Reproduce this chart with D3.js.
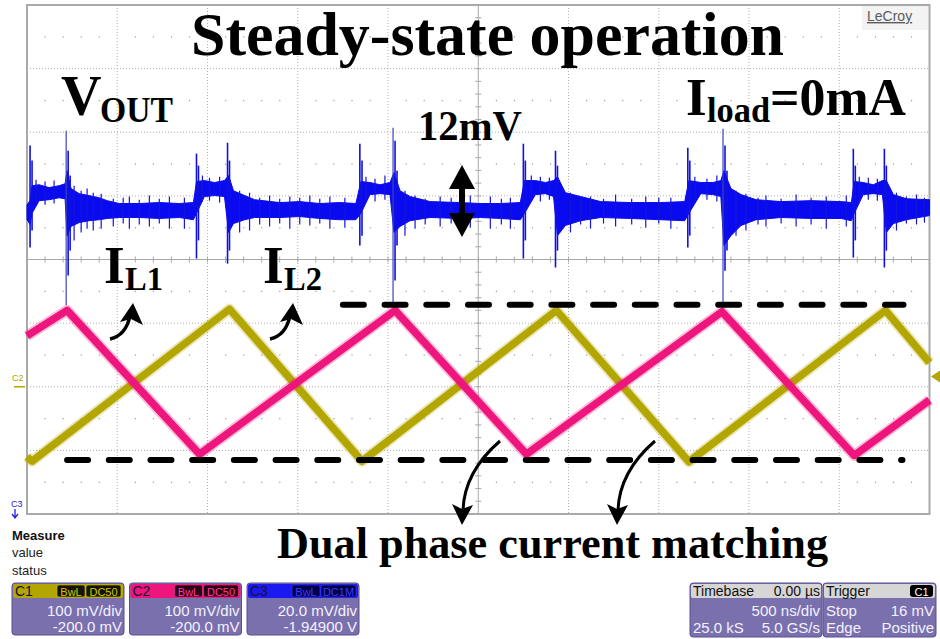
<!DOCTYPE html>
<html>
<head>
<meta charset="utf-8">
<title>Steady-state operation</title>
<style>
  body { margin: 0; background: #fff; }
  svg { display: block; }
  .grid line { stroke: #b0b0b0; stroke-width: 1; stroke-dasharray: 1,2; }
  .axis line { stroke: #a8a8a8; stroke-width: 1; }
  .serif { font-family: "Liberation Serif", "Times New Roman", serif; font-weight: bold; fill: #000; }
  .ui { font-family: "Liberation Sans", Arial, sans-serif; }
</style>
</head>
<body>
<svg id="scope" width="940" height="639"></svg>
<script src="https://d3js.org/d3.v7.min.js"></script>
<script>
// time axis in µs, 500 ns/div, trigger at centre
// C1 (olive) inductor current, mV at 100 mV/div
var c1T = [-2.500, -2.472, -1.378, -0.644, 0.433, 1.167, 2.256, 2.500];
var c1V = [-110, -117, 122, -117, 120, -118, 120, 38];

// C2 (pink) inductor current, mV at 100 mV/div
var c2T = [-2.500, -2.278, -1.544, -0.461, 0.267, 1.350, 2.083, 2.500];
var c2V = [80, 120, -106, 120, -106, 118, -108, -21];

// C3 (blue) VOUT ripple, mV above the 1.949 V offset: core of the band
var voutT = [-2.500, -2.483, -2.472, -2.433, -2.378, -2.322, -2.289, -2.278, -2.256, -2.211,
  -2.156, -2.100, -2.056, -1.989, -1.878, -1.767, -1.656, -1.578, -1.561, -1.517,
  -1.461, -1.406, -1.383, -1.356, -1.294, -1.239, -1.100, -0.989, -0.878, -0.767,
  -0.678, -0.650, -0.600, -0.544, -0.489, -0.467, -0.433, -0.378, -0.267, -0.100,
  0.011, 0.122, 0.233, 0.256, 0.317, 0.372, 0.417, 0.439, 0.483, 0.567,
  0.678, 0.844, 1.011, 1.144, 1.167, 1.233, 1.300, 1.344, 1.361, 1.400,
  1.456, 1.539, 1.678, 1.844, 2.011, 2.067, 2.083, 2.133, 2.189, 2.239,
  2.261, 2.300, 2.372, 2.500];
var voutHi = [17.2, 18.5, 23.2, 23.5, 22.6, 23.2, 23.8, 27.9, 22.3, 20.7,
  20.1, 19.4, 18.5, 17.6, 17.6, 17.9, 17.6, 17.9, 24.5, 24.8,
  24.2, 24.8, 26.4, 21.6, 20.1, 18.8, 17.9, 18.2, 17.6, 17.9,
  17.6, 24.5, 24.2, 23.5, 24.2, 27.3, 21.6, 19.8, 18.2, 17.9,
  17.6, 17.6, 17.9, 24.8, 24.8, 24.2, 24.8, 26.0, 21.0, 19.8,
  18.2, 17.9, 17.9, 18.2, 24.8, 24.2, 24.2, 24.8, 27.9, 22.3,
  20.4, 18.8, 18.2, 18.5, 18.2, 17.9, 24.5, 24.2, 23.5, 24.8,
  24.8, 20.4, 19.1, 18.8];
var voutLo = [12.5, 11.0, 14.5, 18.5, 18.8, 19.4, 19.1, 7.5, 10.4, 11.6,
  12.2, 12.5, 12.9, 13.2, 13.2, 12.9, 13.2, 12.5, 14.5, 19.8,
  20.1, 19.8, 8.5, 11.3, 12.5, 13.2, 13.2, 13.5, 12.9, 12.5,
  12.5, 14.5, 20.4, 20.7, 20.4, 8.5, 10.4, 12.2, 13.2, 12.9,
  13.2, 12.9, 12.5, 14.5, 20.4, 20.7, 19.8, 7.5, 10.7, 12.2,
  13.2, 12.9, 12.5, 12.2, 14.5, 20.7, 20.4, 19.8, 4.4, 7.5,
  10.7, 12.5, 13.2, 12.9, 12.9, 12.2, 14.5, 20.4, 20.7, 20.4,
  8.5, 11.3, 12.5, 13.8];

// C3 noise hairs on the baseline and plateaus (t, top mV, bottom mV)
var hairT = [-2.450, -2.400, -2.350, -2.239, -2.200, -2.167, -2.133, -2.089, -2.022, -1.967,
  -1.933, -1.878, -1.822, -1.767, -1.711, -1.628, -1.528, -1.489, -1.433, -1.322,
  -1.267, -1.211, -1.156, -1.100, -1.044, -0.989, -0.933, -0.878, -0.822, -0.739,
  -0.622, -0.572, -0.517, -0.406, -0.350, -0.294, -0.211, -0.150, -0.044, 0.067,
  0.128, 0.178, 0.294, 0.344, 0.394, 0.511, 0.567, 0.622, 0.694, 0.761,
  0.850, 0.928, 1.000, 1.067, 1.200, 1.267, 1.322, 1.428, 1.483, 1.550,
  1.594, 1.678, 1.761, 1.844, 1.928, 2.039, 2.111, 2.161, 2.211, 2.317,
  2.372, 2.428, 2.472];
var hairHi = [25.1, 24.5, 24.8, 23.2, 21.6, 22.3, 21.0, 20.7, 19.1, 19.4,
  19.8, 18.8, 20.1, 19.1, 19.8, 19.4, 26.4, 25.7, 26.0, 21.6,
  21.0, 19.4, 20.1, 19.1, 19.8, 19.4, 20.1, 19.1, 19.8, 19.4,
  26.0, 25.4, 26.4, 21.6, 20.1, 19.1, 19.8, 19.4, 20.1, 19.8,
  19.1, 19.4, 26.4, 26.0, 25.7, 21.0, 19.4, 19.8, 19.1, 20.4,
  19.1, 19.8, 19.4, 19.4, 26.0, 25.4, 26.4, 21.6, 20.7, 19.4,
  20.1, 19.1, 20.4, 19.4, 19.8, 20.1, 26.0, 25.7, 25.4, 21.0,
  19.8, 20.4, 19.4];
var hairLo = [17.9, 17.2, 17.6, 6.0, 8.5, 9.7, 9.1, 9.7, 10.4, 11.3,
  9.7, 11.0, 10.4, 11.3, 9.7, 9.7, 18.2, 18.5, 17.9, 8.5,
  9.1, 11.0, 10.4, 11.3, 9.7, 11.0, 10.7, 11.3, 9.7, 10.0,
  18.5, 18.2, 18.8, 7.5, 9.7, 11.0, 10.4, 11.3, 10.0, 9.7,
  11.0, 9.7, 18.5, 18.2, 18.8, 8.5, 11.0, 9.7, 11.3, 10.4,
  11.0, 10.0, 11.3, 9.7, 18.5, 18.8, 18.2, 7.5, 9.1, 11.0,
  10.4, 11.3, 10.4, 11.0, 9.7, 10.4, 18.2, 18.8, 18.5, 9.1,
  11.3, 11.0, 11.6];

// C3 switching spikes (t, top mV, bottom mV)
var spikeT = [-2.483, -2.472, -2.283, -2.272, -2.261, -1.561, -1.550, -1.389, -1.378, -0.656,
  -0.644, -0.472, -0.461, -0.450, 0.250, 0.261, 0.428, 0.439, 1.161, 1.172,
  1.356, 1.367, 1.378, 2.078, 2.089, 2.250, 2.261];
var spikeHi = [35.8, 31.1, 40.5, 34.2, 26.4, 33.3, 29.5, 36.7, 31.1, 36.4,
  31.1, 41.4, 37.3, 27.9, 36.4, 31.1, 34.2, 29.5, 35.1, 31.1,
  41.1, 35.8, 27.9, 34.8, 29.5, 34.8, 29.5];
var spikeLo = [3.8, 9.1, -14.4, -5.0, 2.8, 0.3, 6.0, -1.3, 2.8, 4.4,
  7.5, -14.4, -6.6, 4.4, 0.3, 6.0, -2.5, 2.8, 3.8, 7.5,
  -16.0, -3.5, 2.8, 0.6, 6.0, -2.5, 2.8];

// dashed guide levels on the C2 scale (mV) and their time spans (µs)
var guideLevel = [129, -115];
var guideStart = [-0.75, -2.278];
var guideEnd = [2.356, 2.350];

// bottom panel texts
var chNames = ["C1", "C2", "C3"];
var chCoupling = ["DC50", "DC50", "DC1M"];
var chScale = ["100 mV/div", "100 mV/div", "20.0 mV/div"];
var chOffset = ["-200.0 mV", "-200.0 mV", "-1.94900 V"];

var svg = d3.select("#scope");
var plotL = 27, plotR = 929.5, plotT = 5, plotB = 514;

var x = d3.scaleLinear().domain([-2.5, 2.5]).range([plotL, plotR]);
var yDiv = d3.scaleLinear().domain([-4, 4]).range([plotB, plotT]);
var yC12 = d3.scaleLinear().domain([-200, 600]).range([plotB, plotT]); // 100 mV/div, -200 mV offset
var yC3 = d3.scaleLinear().domain([-80, 80]).range([plotB, plotT]);    // 20 mV/div about 1.949 V

// grid
var grid = svg.append("g").attr("class", "grid");
grid.selectAll(".vg").data(d3.range(-2, 2.01, 0.5).filter(function (t) { return t !== 0; }))
  .enter().append("line")
  .attr("x1", function (d) { return x(d); }).attr("x2", function (d) { return x(d); })
  .attr("y1", plotT).attr("y2", plotB);
grid.selectAll(".hg").data([-3, -2, -1, 1, 2, 3])
  .enter().append("line")
  .attr("x1", plotL).attr("x2", plotR)
  .attr("y1", function (d) { return yDiv(d); }).attr("y2", function (d) { return yDiv(d); });

// sparse dots on the half-division rows
var dotRows = [-3.5, -2.5, -1.5, -0.5, 0.5, 1.5, 2.5, 3.5];
var dotCols = d3.range(-24, 25).map(function (k) { return k / 10; }).filter(function (t) { return Math.round(t * 10) % 5 !== 0; });
dotRows.forEach(function (r) {
  svg.append("g").selectAll("rect").data(dotCols).enter().append("rect")
    .attr("x", function (d) { return x(d) - 0.5; }).attr("y", yDiv(r) - 0.5)
    .attr("width", 1.2).attr("height", 1.2).attr("fill", "#9a9a9a");
});

// centre axes with minor ticks
var axis = svg.append("g").attr("class", "axis");
axis.append("line").attr("x1", plotL).attr("x2", plotR).attr("y1", yDiv(0)).attr("y2", yDiv(0));
axis.append("line").attr("x1", x(0)).attr("x2", x(0)).attr("y1", plotT).attr("y2", plotB);
axis.selectAll(".tx").data(d3.range(-24, 25).map(function (k) { return k / 10; }))
  .enter().append("line")
  .attr("x1", function (d) { return x(d); }).attr("x2", function (d) { return x(d); })
  .attr("y1", yDiv(0) - 3).attr("y2", yDiv(0) + 3);
axis.selectAll(".ty").data(d3.range(-19, 20).map(function (k) { return k / 5; }))
  .enter().append("line")
  .attr("x1", x(0) - 3).attr("x2", x(0) + 3)
  .attr("y1", function (d) { return yDiv(d); }).attr("y2", function (d) { return yDiv(d); });

svg.append("rect").attr("x", plotL).attr("y", plotT)
  .attr("width", plotR - plotL).attr("height", plotB - plotT)
  .attr("fill", "none").attr("stroke", "#a9a9a9").attr("stroke-width", 2);

// LeCroy badge
svg.append("rect").attr("x", 862).attr("y", 6).attr("width", 66).attr("height", 24).attr("fill", "#f3f3f3");
svg.append("text").attr("class", "ui").attr("x", 867).attr("y", 21)
  .attr("font-size", 14).attr("fill", "#5a5a5a").attr("text-decoration", "underline")
  .text("LeCroy");

// C3 VOUT trace
var vout = voutT.map(function (t, i) { return { t: t, hi: voutHi[i], lo: voutLo[i] }; });
var band = d3.area()
  .x(function (d) { return x(d.t); })
  .y0(function (d) { return yC3(d.lo); })
  .y1(function (d) { return yC3(d.hi); });
svg.append("path").datum(vout).attr("d", band)
  .attr("fill", "#0a0af0").attr("stroke", "#0a0af0").attr("stroke-width", 1);

svg.append("g").selectAll("line").data(hairT).enter().append("line")
  .attr("x1", function (d) { return x(d); }).attr("x2", function (d) { return x(d); })
  .attr("y1", function (d, i) { return yC3(hairHi[i]); })
  .attr("y2", function (d, i) { return yC3(hairLo[i]); })
  .attr("stroke", "#1515d8").attr("stroke-width", 1.2);

svg.append("g").selectAll("line").data(spikeT).enter().append("line")
  .attr("x1", function (d) { return x(d); }).attr("x2", function (d) { return x(d); })
  .attr("y1", function (d, i) { return yC3(spikeHi[i]); })
  .attr("y2", function (d, i) { return yC3(spikeLo[i]); })
  .attr("stroke", function (d, i) { return spikeLo[i] < -10 ? "#3a44b8" : "#1010e0"; })
  .attr("stroke-width", function (d, i) { return spikeLo[i] < -10 ? 1.2 : 1.6; });

// inductor currents
function trace(tArr, vArr, color) {
  var pts = tArr.map(function (t, i) { return [x(t), yC12(vArr[i])]; });
  var line = d3.line();
  svg.append("path").attr("d", line(pts)).attr("fill", "none")
    .attr("stroke", color).attr("stroke-width", 11).attr("stroke-opacity", 0.28)
    .attr("stroke-linejoin", "round");
  svg.append("path").attr("d", line(pts)).attr("fill", "none")
    .attr("stroke", color).attr("stroke-width", 7.5)
    .attr("stroke-linejoin", "round");
}
trace(c1T, c1V, "#b3a600");
trace(c2T, c2V, "#ee157c");

// dashed guide lines
svg.append("g").selectAll("line").data(guideLevel).enter().append("line")
  .attr("x1", function (d, i) { return x(guideStart[i]); })
  .attr("x2", function (d, i) { return x(guideEnd[i]); })
  .attr("y1", function (d) { return yC12(d); }).attr("y2", function (d) { return yC12(d); })
  .attr("stroke", "#000").attr("stroke-width", 6)
  .attr("stroke-linecap", "round").attr("stroke-dasharray", "21 20.7");

// channel markers
svg.append("text").attr("class", "ui").attr("x", 12).attr("y", 381)
  .attr("font-size", 9).attr("fill", "#b3a600").text("C2");
svg.append("line").attr("x1", 14).attr("x2", 25).attr("y1", yC12(0)).attr("y2", yC12(0))
  .attr("stroke", "#b3a600").attr("stroke-width", 1.5);
svg.append("text").attr("class", "ui").attr("x", 11).attr("y", 507)
  .attr("font-size", 9).attr("fill", "#2020e0").text("C3");
svg.append("path").attr("d", "M15,509 L15,517 M12,514 L15,518 L18,514")
  .attr("stroke", "#2020e0").attr("stroke-width", 1.3).attr("fill", "none");
svg.append("path")
  .attr("d", "M931," + yC12(16) + " L940," + (yC12(16) - 6) + " L940," + (yC12(16) + 6) + " Z")
  .attr("fill", "#b3a600");

// annotations
svg.append("text").attr("class", "serif").attr("x", 191).attr("y", 55)
  .attr("font-size", 62).attr("textLength", 593).attr("lengthAdjust", "spacingAndGlyphs")
  .text("Steady-state operation");

svg.append("text").attr("class", "serif").attr("x", 61).attr("y", 115).attr("font-size", 56).text("V");
svg.append("text").attr("class", "serif").attr("x", 100).attr("y", 122).attr("font-size", 36)
  .attr("textLength", 73).attr("lengthAdjust", "spacingAndGlyphs").text("OUT");

svg.append("text").attr("class", "serif").attr("x", 686).attr("y", 115).attr("font-size", 53).text("I");
svg.append("text").attr("class", "serif").attr("x", 707).attr("y", 122).attr("font-size", 35)
  .attr("textLength", 63).attr("lengthAdjust", "spacingAndGlyphs").text("load");
svg.append("text").attr("class", "serif").attr("x", 770).attr("y", 115).attr("font-size", 53)
  .attr("textLength", 136).attr("lengthAdjust", "spacingAndGlyphs").text("=0mA");

svg.append("text").attr("class", "serif").attr("x", 418).attr("y", 140).attr("font-size", 42)
  .attr("textLength", 104).attr("lengthAdjust", "spacingAndGlyphs").text("12mV");

svg.append("text").attr("class", "serif").attr("x", 104).attr("y", 283).attr("font-size", 53).text("I");
svg.append("text").attr("class", "serif").attr("x", 125).attr("y", 290).attr("font-size", 34)
  .attr("textLength", 38).attr("lengthAdjust", "spacingAndGlyphs").text("L1");
svg.append("text").attr("class", "serif").attr("x", 263).attr("y", 283).attr("font-size", 53).text("I");
svg.append("text").attr("class", "serif").attr("x", 284).attr("y", 290).attr("font-size", 34)
  .attr("textLength", 38).attr("lengthAdjust", "spacingAndGlyphs").text("L2");

svg.append("text").attr("class", "serif").attr("x", 277).attr("y", 558).attr("font-size", 44)
  .attr("textLength", 551).attr("lengthAdjust", "spacingAndGlyphs")
  .text("Dual phase current matching");

// 12 mV double arrow
svg.append("rect").attr("x", 459).attr("y", 184).attr("width", 6).attr("height", 34).attr("fill", "#000");
svg.append("path").attr("d", "M462,165 L475,189 L449,189 Z M462,237 L475,213 L449,213 Z").attr("fill", "#000");

// curved arrows
var arrows = svg.append("g");
[0, 160].forEach(function (dx) {
  arrows.append("path")
    .attr("d", "M" + (110 + dx) + ",339 C" + (119 + dx) + ",337 " + (127 + dx) + ",330 " + (130 + dx) + ",316")
    .attr("fill", "none").attr("stroke", "#000").attr("stroke-width", 3.5);
  arrows.append("path")
    .attr("d", "M" + (133 + dx) + ",303 L" + (143 + dx) + ",325 L" + (131 + dx) + ",319 L" + (120 + dx) + ",322 Z")
    .attr("fill", "#000");
});
[0, 155].forEach(function (dx) {
  arrows.append("path")
    .attr("d", "M" + (500 + dx) + ",441 C" + (478 + dx) + ",460 " + (464 + dx) + ",484 " + (463 + dx) + ",510")
    .attr("fill", "none").attr("stroke", "#000").attr("stroke-width", 3);
  arrows.append("path")
    .attr("d", "M" + (462 + dx) + ",525 L" + (452 + dx) + ",504 L" + (462 + dx) + ",509 L" + (473 + dx) + ",505 Z")
    .attr("fill", "#000");
});

// bottom panel: measure
svg.append("text").attr("class", "ui").attr("x", 12).attr("y", 540).attr("font-size", 13)
  .attr("font-weight", "bold").attr("fill", "#111").text("Measure");
svg.append("text").attr("class", "ui").attr("x", 12).attr("y", 557).attr("font-size", 13)
  .attr("fill", "#222").text("value");
svg.append("text").attr("class", "ui").attr("x", 12).attr("y", 575).attr("font-size", 13)
  .attr("fill", "#222").text("status");

var chHead = ["#b3a600", "#ee157c", "#1a1af0"];
var chBadge = ["#141400", "#2a0014", "#00004a"];
var chText = ["#d6c600", "#ff3b9a", "#3a3aff"];
var bodyFill = "#7a70ae", bodyStroke = "#5a5190";

chNames.forEach(function (name, i) {
  var bx = 12 + i * 117.5, bw = 112, by = 583, bh = 52;
  var g = svg.append("g").attr("class", "ui");
  g.append("rect").attr("x", bx).attr("y", by).attr("width", bw).attr("height", bh)
    .attr("rx", 3).attr("fill", bodyFill).attr("stroke", bodyStroke);
  g.append("rect").attr("x", bx + 1).attr("y", by + 1).attr("width", bw - 2).attr("height", 14)
    .attr("rx", 2).attr("fill", chHead[i]);
  g.append("text").attr("x", bx + 3).attr("y", by + 13).attr("font-size", 14)
    .attr("fill", "#1a1030").text(name);
  g.append("rect").attr("x", bx + 45).attr("y", by + 2).attr("width", 28).attr("height", 12)
    .attr("rx", 2).attr("fill", chBadge[i]).attr("stroke", chText[i]).attr("stroke-width", 0.6);
  g.append("text").attr("x", bx + 59).attr("y", by + 12.5).attr("font-size", 11).attr("text-anchor", "middle")
    .attr("fill", chText[i]).text("BwL");
  g.append("rect").attr("x", bx + 74).attr("y", by + 2).attr("width", 35).attr("height", 12)
    .attr("rx", 2).attr("fill", chBadge[i]).attr("stroke", chText[i]).attr("stroke-width", 0.6);
  g.append("text").attr("x", bx + 91.5).attr("y", by + 12.5).attr("font-size", 11).attr("text-anchor", "middle")
    .attr("fill", chText[i]).text(chCoupling[i]);
  g.append("text").attr("x", bx + bw - 2).attr("y", by + 33).attr("font-size", 15).attr("text-anchor", "end")
    .attr("fill", "#f4f2ff").text(chScale[i]);
  g.append("text").attr("x", bx + bw - 2).attr("y", by + 49).attr("font-size", 15).attr("text-anchor", "end")
    .attr("fill", "#f4f2ff").text(chOffset[i]);
});

// timebase and trigger
function infoBox(bx, bw, head, headRight, rows, badge) {
  var by = 583, bh = 54;
  var g = svg.append("g").attr("class", "ui");
  g.append("rect").attr("x", bx).attr("y", by).attr("width", bw).attr("height", bh)
    .attr("rx", 3).attr("fill", bodyFill).attr("stroke", bodyStroke);
  g.append("rect").attr("x", bx + 1).attr("y", by + 1).attr("width", bw - 2).attr("height", 14)
    .attr("rx", 2).attr("fill", "#d6d6d6");
  g.append("text").attr("x", bx + 3).attr("y", by + 13).attr("font-size", 14).attr("fill", "#111").text(head);
  if (badge) {
    g.append("rect").attr("x", bx + bw - 26).attr("y", by + 2).attr("width", 23).attr("height", 12)
      .attr("rx", 3).attr("fill", "#000");
    g.append("text").attr("x", bx + bw - 14.5).attr("y", by + 12.5).attr("font-size", 11)
      .attr("text-anchor", "middle").attr("fill", "#fff").text(headRight);
  } else {
    g.append("text").attr("x", bx + bw - 2).attr("y", by + 13).attr("font-size", 14)
      .attr("text-anchor", "end").attr("fill", "#111").text(headRight);
  }
  rows.forEach(function (r, k) {
    var yy = by + 33 + k * 17;
    if (r[0]) g.append("text").attr("x", bx + 3).attr("y", yy).attr("font-size", 15)
      .attr("fill", "#f4f2ff").text(r[0]);
    g.append("text").attr("x", bx + bw - 2).attr("y", yy).attr("font-size", 15)
      .attr("text-anchor", "end").attr("fill", "#f4f2ff").text(r[1]);
  });
}
infoBox(690, 132, "Timebase", "0.00 \u00b5s", [["", "500 ns/div"], ["25.0 kS", "5.0 GS/s"]], false);
infoBox(823, 113, "Trigger", "C1", [["Stop", "16 mV"], ["Edge", "Positive"]], true);
</script>
</body>
</html>
